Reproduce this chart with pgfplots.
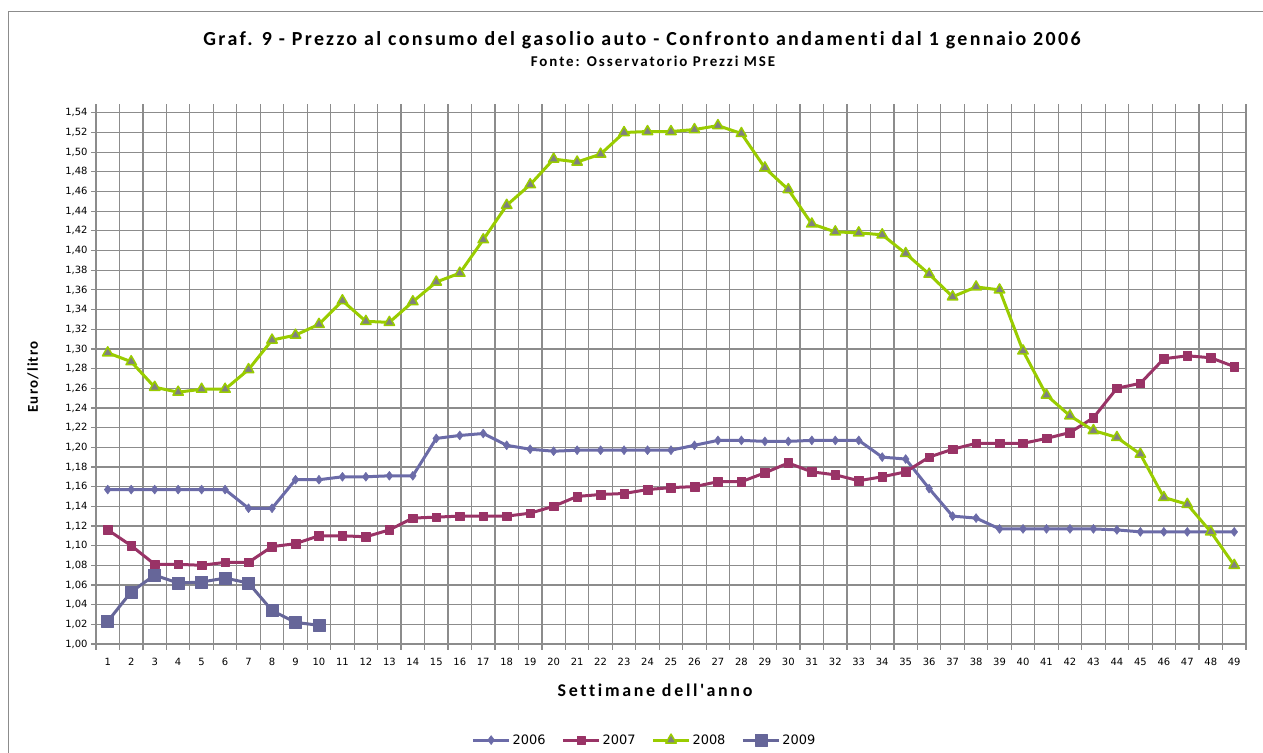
\documentclass[border=0pt]{standalone}
\usepackage{fontspec}
\setmainfont{Carlito}
\newfontfamily\tickfont{DejaVu Sans}
\newfontfamily\spacedA[LetterSpace=12,Ligatures={NoCommon}]{Carlito}
\newfontfamily\spacedB[LetterSpace=13,Ligatures={NoCommon}]{Carlito}
\newfontfamily\spacedC[LetterSpace=8,Ligatures={NoCommon}]{Carlito}
\newfontfamily\spacedD[LetterSpace=15,Ligatures={NoCommon}]{Carlito}
\usepackage{pgfplots}
\pgfplotsset{compat=1.18}
\definecolor{cA}{HTML}{6B6BA8}
\definecolor{cB}{HTML}{993366}
\definecolor{cC}{HTML}{99CC00}
\definecolor{cD}{HTML}{666699}
\definecolor{gridc}{HTML}{8C8C8C}
\begin{document}
\begin{tikzpicture}[x=1bp,y=1bp]
\path[use as bounding box] (0,0) rectangle (1263,753);
\draw[gridc,line width=1bp] (8,0) -- (8,741) -- (1263,741);
\node[font=\spacedA\bfseries\fontsize{20}{23}\selectfont] at (642,713) {Graf. 9 - Prezzo al consumo del gasolio auto - Confronto andamenti dal 1 gennaio 2006};
\node[font=\spacedB\bfseries\fontsize{15}{17}\selectfont] at (653,692) {Fonte: Osservatorio Prezzi MSE};
\node[font=\spacedC\bfseries\fontsize{15}{17}\selectfont,rotate=90] at (33,376) {Euro/litro};
\node[font=\spacedD\bfseries\fontsize{18}{20}\selectfont] at (655,63) {Settimane dell'anno};
\begin{axis}[
  at={(96bp,109bp)}, anchor=south west,
  scale only axis, width=1150bp, height=540bp,
  xmin=0.5, xmax=49.5, ymin=1.00, ymax=1.549,
  axis x line=bottom, axis y line=left,
  axis line style={draw=gridc,line width=1.2bp,-},
  xtick={1,...,49},
  minor xtick={0.5,1.5,...,49.5},
  xminorgrids, ymajorgrids,
  minor grid style={draw=gridc,line width=1.2bp},
  major grid style={draw=gridc,line width=1.2bp},
  major x tick style={draw=none},
  minor x tick style={draw=gridc,line width=1.2bp},
  major y tick style={draw=gridc,line width=1.2bp},
  tick align=outside,
  major tick length=5bp, minor tick length=6bp,
  ytick={1.00,1.02,1.04,1.06,1.08,1.10,1.12,1.14,1.16,1.18,1.20,1.22,1.24,1.26,1.28,1.30,1.32,1.34,1.36,1.38,1.40,1.42,1.44,1.46,1.48,1.50,1.52,1.54},
  yticklabel style={/pgf/number format/.cd,fixed,fixed zerofill,precision=2,use comma,assume math mode=true},
  xticklabel style={/pgf/number format/assume math mode=true, yshift=-6bp},
  tick label style={font=\tickfont\fontsize{10}{12}\selectfont, color=black},
  legend style={draw=none, at={(0.477,-0.178)}, anchor=center, font=\tickfont\fontsize{13}{15}\selectfont,
     /tikz/every even column/.append style={column sep=14bp}},
  legend columns=4,
  legend image code/.code={\draw[mark repeat=2,mark phase=2] plot coordinates {(0bp,0bp) (18bp,0bp) (36bp,0bp)};},
  every axis plot/.append style={line width=3bp, line join=round},
  clip=false,
]
\addplot[cA, mark=diamond*, mark size=4.5bp, mark options={fill=cA,draw=cA,line width=0.5bp}] coordinates {
(1,1.157)(2,1.157)(3,1.157)(4,1.157)(5,1.157)(6,1.157)(7,1.138)(8,1.138)(9,1.167)(10,1.167)
(11,1.170)(12,1.170)(13,1.171)(14,1.171)(15,1.209)(16,1.212)(17,1.214)(18,1.202)(19,1.198)(20,1.196)
(21,1.197)(22,1.197)(23,1.197)(24,1.197)(25,1.197)(26,1.202)(27,1.207)(28,1.207)(29,1.206)(30,1.206)
(31,1.207)(32,1.207)(33,1.207)(34,1.190)(35,1.188)(36,1.158)(37,1.130)(38,1.128)(39,1.117)(40,1.117)
(41,1.117)(42,1.117)(43,1.117)(44,1.116)(45,1.114)(46,1.114)(47,1.114)(48,1.114)(49,1.114)};
\addlegendentry{2006}
\addplot[cB, mark=square*, mark size=4.3bp, mark options={fill=cB,draw=cB,line width=0.5bp}] coordinates {
(1,1.116)(2,1.100)(3,1.081)(4,1.081)(5,1.080)(6,1.083)(7,1.083)(8,1.099)(9,1.102)(10,1.110)
(11,1.110)(12,1.109)(13,1.116)(14,1.128)(15,1.129)(16,1.130)(17,1.130)(18,1.130)(19,1.133)(20,1.140)
(21,1.150)(22,1.152)(23,1.153)(24,1.157)(25,1.159)(26,1.160)(27,1.165)(28,1.165)(29,1.174)(30,1.184)
(31,1.175)(32,1.172)(33,1.166)(34,1.170)(35,1.175)(36,1.190)(37,1.198)(38,1.204)(39,1.204)(40,1.204)
(41,1.209)(42,1.215)(43,1.230)(44,1.260)(45,1.265)(46,1.290)(47,1.293)(48,1.291)(49,1.282)};
\addlegendentry{2007}
\addplot[cC, mark=triangle*, mark size=6bp, mark options={fill=gray,draw=cC,line width=1.5bp}] coordinates {
(1,1.296)(2,1.287)(3,1.261)(4,1.256)(5,1.259)(6,1.259)(7,1.279)(8,1.309)(9,1.314)(10,1.325)
(11,1.349)(12,1.328)(13,1.327)(14,1.348)(15,1.368)(16,1.377)(17,1.411)(18,1.446)(19,1.467)(20,1.493)
(21,1.490)(22,1.498)(23,1.520)(24,1.521)(25,1.521)(26,1.523)(27,1.527)(28,1.519)(29,1.484)(30,1.462)
(31,1.427)(32,1.419)(33,1.418)(34,1.416)(35,1.397)(36,1.376)(37,1.353)(38,1.363)(39,1.360)(40,1.298)
(41,1.253)(42,1.232)(43,1.217)(44,1.210)(45,1.193)(46,1.149)(47,1.142)(48,1.114)(49,1.080)};
\addlegendentry{2008}
\addplot[cD, mark=square*, mark size=6bp, mark options={fill=cD,draw=cD,line width=0.5bp}] coordinates {
(1,1.023)(2,1.053)(3,1.070)(4,1.062)(5,1.063)(6,1.067)(7,1.062)(8,1.034)(9,1.022)(10,1.019)};
\addlegendentry{2009}
\end{axis}
\end{tikzpicture}
\end{document}
